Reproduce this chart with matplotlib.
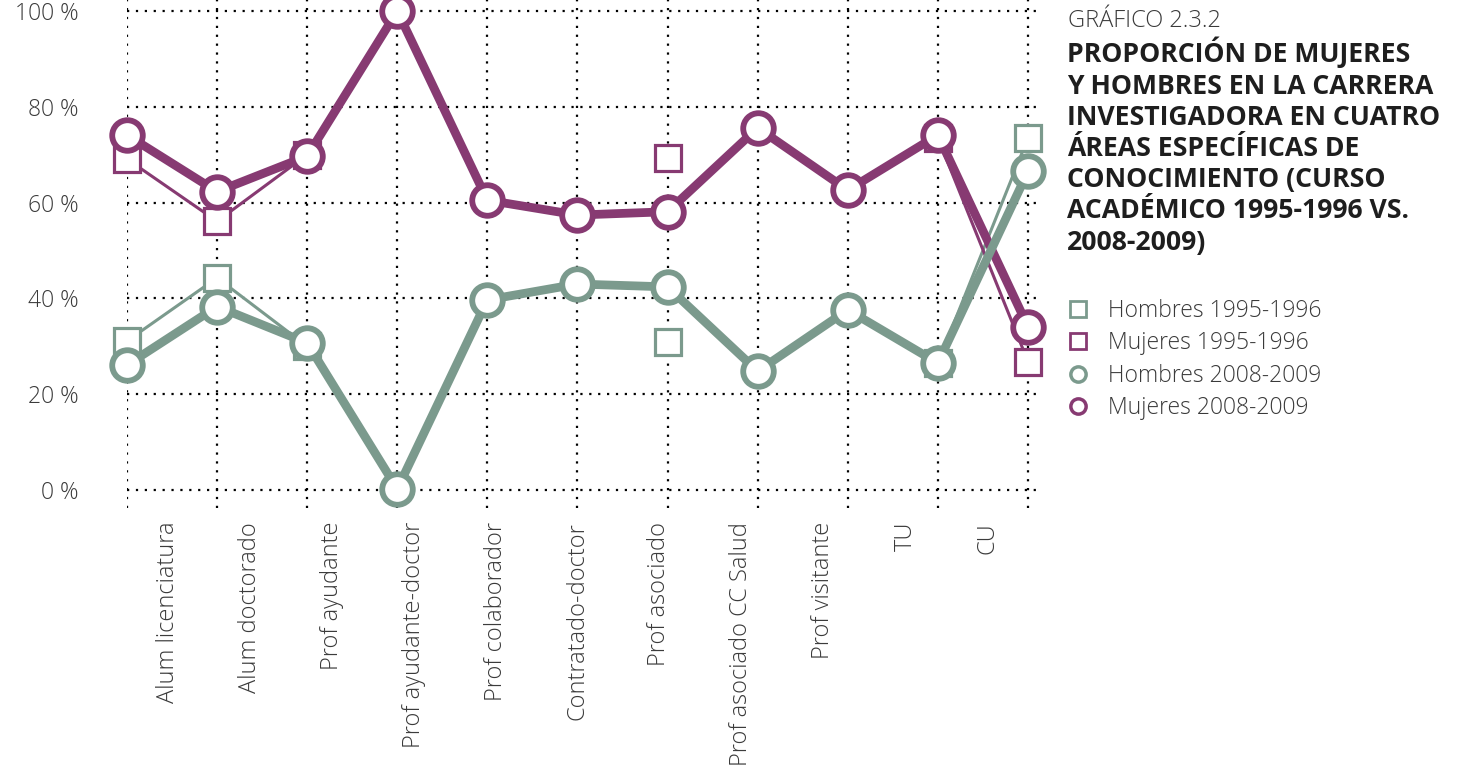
import matplotlib
matplotlib.use("Agg")
import matplotlib.pyplot as plt
from matplotlib.lines import Line2D
import numpy as np

categories = ["Alum licenciatura", "Alum doctorado", "Prof ayudante", "Prof ayudante-doctor",
              "Prof colaborador", "Contratado-doctor", "Prof asociado", "Prof asociado CC Salud",
              "Prof visitante", "TU", "CU"]
mujeres_2008 = [74.1, 62.3, 69.7, 100.0, 60.5, 57.4, 58.1, 75.6, 62.6, 74.1, 34.1]
hombres_2008 = [26.1, 38.3, 30.7, 0.2, 39.7, 43.0, 42.4, 24.8, 37.6, 26.5, 66.5]
mujeres_1995 = [69.1, 56.1, 70.0, np.nan, np.nan, np.nan, 69.3, np.nan, np.nan, 73.5, 26.8]
hombres_1995 = [31.1, 44.3, 30.0, np.nan, np.nan, np.nan, 30.8, np.nan, np.nan, 26.5, 73.5]
y_ticks = [0, 20, 40, 60, 80, 100]
y_labels = ["0 %", "20 %", "40 %", "60 %", "80 %", "100 %"]

PURPLE = "#873a72"
GREEN = "#7b9a8d"
TXT = "#3a3a3a"
FONT = "Open Sans"

plt.rcParams["font.family"] = [FONT, "DejaVu Sans"]

W, H = 1468, 769
fig = plt.figure(figsize=(W / 100, H / 100), dpi=100)
left, right, bottom, top = 127, 1037, 508, 0
ax = fig.add_axes([left / W, 1 - bottom / H, (right - left) / W, (bottom - top) / H])

x = np.arange(len(categories))
ax.set_xlim(0, 10.1)
ax.set_ylim(-3.76, 102.3)

# grid
ax.set_xticks(x)
ax.set_xticklabels([])
ax.set_yticks(y_ticks)
ax.set_yticklabels(y_labels)
ax.grid(True, color="black", linestyle=(0, (1, 3)), linewidth=1.6)
for s in ax.spines.values():
    s.set_visible(False)
ax.tick_params(axis="both", which="major", length=0)
ax.tick_params(axis="y", pad=35, labelsize=16.5, labelcolor=TXT)
for t in ax.get_yticklabels():
    t.set_fontweight("light")

# category labels placed between grid lines
ax.xaxis.remove_overlapping_locs = False
label_pos = 0.45 + 0.91 * x
ax.set_xticks(label_pos, minor=True)
ax.set_xticklabels(categories, minor=True, rotation=90, fontsize=17, color=TXT,
                   fontweight="light", va="top", ha="center")
ax.tick_params(axis="x", which="minor", length=0, pad=10)

# 1995-1996 series (thin lines + squares)
sq = dict(marker="s", markersize=19, markerfacecolor="white", markeredgewidth=2.3,
          linewidth=2.2, clip_on=False)
ax.plot(x, hombres_1995, color=GREEN, markeredgecolor=GREEN, zorder=3, **sq)
ax.plot(x, mujeres_1995, color=PURPLE, markeredgecolor=PURPLE, zorder=3, **sq)

# 2008-2009 series (thick lines + circles)
ci = dict(marker="o", markersize=22, markerfacecolor="white", markeredgewidth=4.2,
          linewidth=6.3, clip_on=False)
ax.plot(x, mujeres_2008, color=PURPLE, markeredgecolor=PURPLE, zorder=4, **ci)
ax.plot(x, hombres_2008, color=GREEN, markeredgecolor=GREEN, zorder=5, **ci)

# title
fig.text(1068 / W, 1 - 9 / H, "GRÁFICO 2.3.2", fontsize=17, fontweight="light",
         color=TXT, va="top", ha="left")
fig.text(1067 / W, 1 - 37 / H,
         "PROPORCIÓN DE MUJERES\nY HOMBRES EN LA CARRERA\nINVESTIGADORA EN CUATRO\n"
         "ÁREAS ESPECÍFICAS DE\nCONOCIMIENTO (CURSO\nACADÉMICO 1995-1996 VS.\n2008-2009)",
         fontsize=19.2, fontweight="bold", color="#1e1e1e", va="top", ha="left",
         linespacing=1.26)

# legend
handles = [
    Line2D([], [], linestyle="none", marker="s", markersize=11, markerfacecolor="white",
           markeredgecolor=GREEN, markeredgewidth=2),
    Line2D([], [], linestyle="none", marker="s", markersize=11, markerfacecolor="white",
           markeredgecolor=PURPLE, markeredgewidth=2),
    Line2D([], [], linestyle="none", marker="o", markersize=11, markerfacecolor="white",
           markeredgecolor=GREEN, markeredgewidth=2.5),
    Line2D([], [], linestyle="none", marker="o", markersize=11, markerfacecolor="white",
           markeredgecolor=PURPLE, markeredgewidth=2.5),
]
labels = ["Hombres 1995-1996", "Mujeres 1995-1996", "Hombres 2008-2009", "Mujeres 2008-2009"]
leg = fig.legend(handles, labels, loc="upper left", bbox_to_anchor=(1067 / W, 1 - 299 / H),
                 frameon=False, fontsize=16.5, handlelength=1.0, handletextpad=0.8,
                 labelspacing=0.37, borderpad=0, borderaxespad=0)
for t in leg.get_texts():
    t.set_color(TXT)
    t.set_fontweight("light")

fig.savefig("out.png", dpi=100)
